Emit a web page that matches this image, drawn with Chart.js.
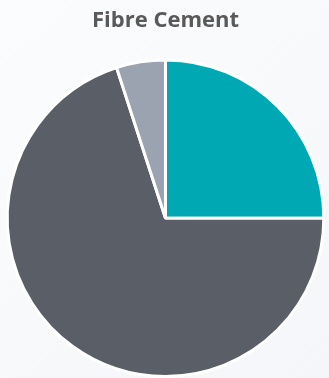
<!DOCTYPE html>
<html>
<head>
<meta charset="utf-8">
<script src="https://cdn.jsdelivr.net/npm/chart.js@4"></script>
<style>
  html, body { margin: 0; padding: 0; background: #f8f9fb; }
  #wrap { width: 329px; height: 378px; position: relative; }
</style>
</head>
<body>
<div id="wrap"><canvas id="c"></canvas></div>
<script>
// Share of the fibre cement segment
const categories = ['Segment A', 'Segment B', 'Segment C'];
const shares = [25, 70, 5];
const sliceColors = ['#00a8b4', '#5a5e66', '#9ca3b0'];
const chartTitle = 'Fibre Cement';

const bgPlugin = {
  id: 'bg',
  beforeDraw(chart) {
    const { ctx, width, height } = chart;
    const g = ctx.createLinearGradient(0, 0, width, height);
    g.addColorStop(0, '#fbfcfd');
    g.addColorStop(1, '#f4f6f9');
    ctx.save();
    ctx.fillStyle = g;
    ctx.fillRect(0, 0, width, height);
    ctx.restore();
  }
};

new Chart(document.getElementById('c'), {
  type: 'pie',
  data: {
    labels: categories,
    datasets: [{
      data: shares,
      backgroundColor: sliceColors,
      borderColor: '#ffffff',
      borderWidth: 3,
      hoverOffset: 0
    }]
  },
  options: {
    responsive: true,
    maintainAspectRatio: false,
    animation: false,
    layout: { padding: { left: 2, right: 0, top: 0, bottom: -2 } },
    plugins: {
      legend: { display: false },
      tooltip: { enabled: false },
      title: {
        display: true,
        text: chartTitle,
        color: '#595959',
        font: { family: 'Open Sans', size: 22, weight: 'bold', lineHeight: 1.2 },
        padding: { top: 7.5, bottom: 24.5 }
      }
    }
  },
  plugins: [bgPlugin]
});
</script>
</body>
</html>
